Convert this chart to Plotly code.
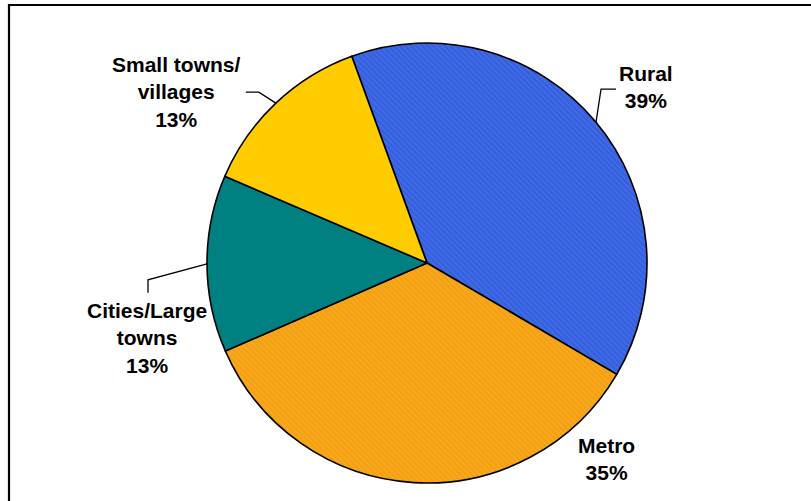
import math
import plotly.graph_objects as go

# Share of respondents by place of residence
labels = ["Rural", "Metro", "Cities/Large towns", "Small towns/villages"]
values = [39, 35, 13, 13]
label_text = ["Rural<br>39%", "Metro<br>35%", "Cities/Large<br>towns<br>13%",
              "Small towns/<br>villages<br>13%"]

colors = ["#355fdc", "#f5a00e", "#008080", "#ffcc00"]
hatch = ["\\", "\\", "", ""]
hatch_fg = ["#5681fa", "#fab84a", "#008080", "#ffcc00"]

W, H = 811, 501
ROTATION = -20
# pie placement in pixels: left, right, top, bottom
PL, PR, PT, PB = 207, 647, 43, 483

fig = go.Figure(go.Pie(
    labels=labels,
    values=values,
    sort=False,
    direction="clockwise",
    rotation=ROTATION,
    textinfo="none",
    hoverinfo="label+percent",
    showlegend=False,
    domain=dict(x=[PL / W, PR / W], y=[1 - PB / H, 1 - PT / H]),
    marker=dict(
        colors=colors,
        line=dict(color="black", width=1.6),
        pattern=dict(shape=hatch, fgcolor=hatch_fg, size=4, solidity=0.3,
                     fillmode="overlay"),
    ),
))

# label placement relative to each slice's rim point (pixels):
# text centre offset and the elbow of the leader line (None = no leader)
text_off = [(50, -35), (193, -24), (-60, 74), (-99, -11)]
leader = [[(5, -33), (20, -33)], None, [(-59, 16), (-59, 29)],
          [(-17, -11), (-30, -11)]]

cx, cy = (PL + PR) / 2, (PT + PB) / 2
r = (PR - PL) / 2
total = sum(values)


def px(x, y):
    return x / W, 1 - y / H


shapes = []
annotations = []
start = ROTATION
for i, v in enumerate(values):
    sweep = 360 * v / total
    mid = math.radians(start + sweep / 2)
    start += sweep
    ex, ey = cx + r * math.sin(mid), cy - r * math.cos(mid)
    tx, ty = ex + text_off[i][0], ey + text_off[i][1]
    x, y = px(tx, ty)
    annotations.append(dict(
        x=x, y=y, xref="paper", yref="paper", text=f"<b>{label_text[i]}</b>",
        showarrow=False, xanchor="center", yanchor="middle", align="center",
        font=dict(family="Liberation Sans, Arial, sans-serif", size=21,
                  color="black"),
    ))
    if leader[i]:
        pts = [(ex, ey)] + [(ex + dx, ey + dy) for dx, dy in leader[i]]
        path = "M " + " L ".join(f"{px(a, b)[0]:.5f},{px(a, b)[1]:.5f}"
                                 for a, b in pts)
        shapes.append(dict(type="path", path=path, xref="paper", yref="paper",
                           line=dict(color="black", width=1.3)))

# chart frame (open at the right and bottom edges)
shapes.append(dict(type="rect", xref="paper", yref="paper",
                   x0=9 / W, x1=1.05, y0=-0.05, y1=1 - 5 / H,
                   line=dict(color="black", width=2.2)))

fig.update_layout(
    width=W, height=H,
    margin=dict(l=0, r=0, t=0, b=0),
    paper_bgcolor="white",
    plot_bgcolor="white",
    shapes=shapes,
    annotations=annotations,
)

fig.write_html("out.html")
